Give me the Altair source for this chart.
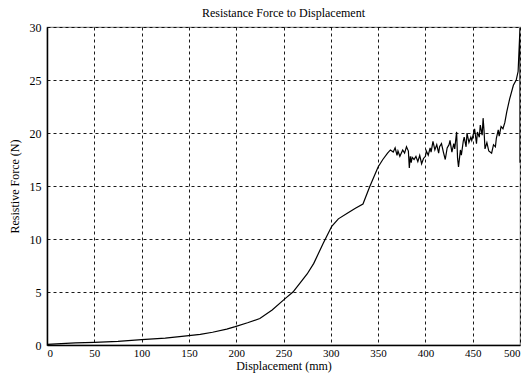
import altair as alt
import pandas as pd

displacement = [0, 10, 20, 30, 50, 75, 100, 125, 150, 162, 175, 190, 199, 212, 225, 238, 252, 260,
                 267, 275, 282, 292, 301, 308, 317, 326, 334, 341, 350, 355, 360, 363, 366, 368,
                 370, 371, 373, 376, 378, 380, 382, 383, 384, 385, 386, 388, 390, 392, 394, 396,
                 398, 400, 401, 403, 405, 406, 408, 410, 412, 414, 415, 417, 419, 421, 423, 425,
                 426, 428, 430, 431, 433, 434, 435, 437, 438, 440, 441, 443, 444, 446, 448, 449,
                 451, 452, 454, 455, 457, 458, 460, 461, 462, 463, 465, 467, 470, 472, 474, 475,
                 477, 478, 480, 482, 484, 486, 489, 493, 496, 498, 500, 500]
force = [0.05, 0.1, 0.15, 0.2, 0.25, 0.35, 0.5, 0.65, 0.88, 1.0, 1.2, 1.5, 1.73, 2.1, 2.5, 3.3,
         4.4, 5.0, 5.8, 6.7, 7.7, 9.6, 11.2, 11.9, 12.4, 12.9, 13.3, 14.9, 16.8, 17.5, 18.1,
         18.4, 18.2, 18.6, 17.9, 18.3, 17.8, 18.4, 18.1, 18.7, 18.3, 16.7, 17.8, 17.2, 17.7,
         17.5, 17.8, 17.3, 17.9, 17.1, 17.6, 17.8, 18.3, 17.9, 18.6, 18.2, 19.2, 18.4, 18.9,
         18.1, 18.7, 19.0, 18.2, 17.5, 18.6, 18.9, 19.3, 18.2, 19.0, 18.5, 20.1, 17.6, 16.8,
         18.4, 17.9, 19.2, 19.6, 18.7, 20.0, 19.1, 19.6, 19.3, 20.0, 20.4, 19.0, 20.1, 19.6,
         20.75, 19.8, 21.4, 20.2, 18.5, 19.1, 18.3, 18.1, 18.9, 18.7, 19.5, 20.3, 19.7, 20.6,
         20.4, 21.0, 22.0, 23.2, 24.5, 25.0, 25.8, 29.9, 17.2]

title_text = "Resistance Force to Displacement"
x_title = "Displacement (mm)"
y_title = "Resistive Force (N)"
x_ticks = list(range(0, 501, 50))
y_ticks = list(range(0, 31, 5))

df = pd.DataFrame({"d": displacement, "f": force, "i": list(range(len(force)))})

font = "Liberation Serif"

chart = alt.Chart(df).mark_line(color="black", strokeWidth=1.2, clip=True).encode(
    x=alt.X("d:Q", scale=alt.Scale(domain=[0, 500], nice=False),
            axis=alt.Axis(values=x_ticks, title=x_title, grid=True, ticks=False,
                          labelPadding=2, titlePadding=2, format="d", labelFontSize=11)),
    y=alt.Y("f:Q", scale=alt.Scale(domain=[0, 30], nice=False),
            axis=alt.Axis(values=y_ticks, title=y_title, grid=True, ticks=False,
                          labelPadding=6, titlePadding=8, format="d")),
    order="i:Q",
).properties(
    width=473, height=318,
    background="white",
    autosize=alt.AutoSizeParams(type="none"),
    padding={"left": 47, "top": 27, "right": 10, "bottom": 35},
    title=alt.TitleParams(title_text, font=font, fontSize=12, fontWeight="normal",
                          color="black", offset=1, anchor="middle"),
).configure_axis(
    labelFont=font, labelFontSize=12, labelColor="black",
    titleFont=font, titleFontSize=12, titleFontWeight="normal", titleColor="black",
    gridColor="black", gridDash=[3, 3], gridWidth=1, gridOpacity=0.9,
    domainColor="black", domainWidth=1.5,
).configure_view(
    stroke="#888888", strokeWidth=1.2,
)

chart.save("out.html", embed_options={"renderer": "svg", "actions": False})
